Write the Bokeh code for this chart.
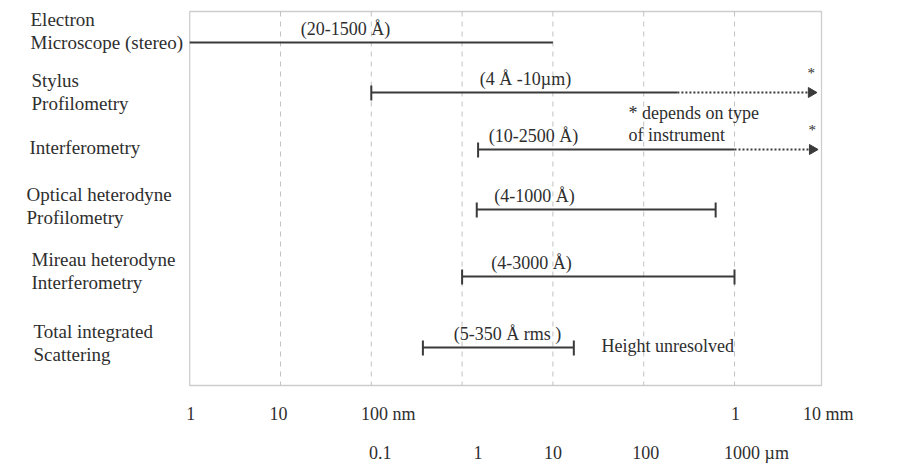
import math
from bokeh.plotting import figure
from bokeh.models import Range1d
from bokeh.core.properties import value
from bokeh.embed import file_html
from bokeh.resources import INLINE

# ---------------- data ----------------
methods = [
    "Electron\nMicroscope (stereo)",
    "Stylus\nProfilometry",
    "Interferometry",
    "Optical heterodyne\nProfilometry",
    "Mireau heterodyne\nInterferometry",
    "Total integrated\nScattering",
]
height_ranges = ["(20-1500 Å)", "(4 Å -10µm)", "(10-2500 Å)", "(4-1000 Å)", "(4-3000 Å)", "(5-350 Å rms )"]
# lateral range, nm
lat_min_nm = [1, 100, 1500, 1450, 1000, 370]
lat_max_nm = [1.0e4, 2.35e5, 1.0e6, 6.2e5, 1.0e6, 1.7e4]
extends_to_nm = [None, 7.0e6, 7.2e6, None, None, None]  # dotted "depends on instrument"
capped_start = [False, True, True, True, True, True]
capped_end = [False, False, False, True, True, True]

nm_ticks = [1, 10, 100, 1e6, 1e7]
nm_tick_labels = ["1", "10", "100 nm", "1", "10 mm"]
um_ticks = [100, 1e3, 1e4, 1e5, 1e6]
um_tick_labels = ["0.1", "1", "10", "100", "1000 µm"]
grid_decades = [10, 100, 1e3, 1e4, 1e5, 1e6]
footnote = "* depends on type\nof instrument"
tis_note = "Height unresolved"

# ---------------- layout ----------------
W, H = 906, 470
X0_PX = 189.2      # pixel of 1 nm
DEC_PX = 90.8      # pixels per decade


def nm_at(px):
    return 10 ** ((px - X0_PX) / DEC_PX)


BOX_L, BOX_R, BOX_T, BOX_B = 1.0, nm_at(821), 11, 385
row_y = [42, 92, 149, 209, 276, 347]
row_label_y = [30.5, 91.5, 147, 205.5, 270.5, 342.5]
row_label_px = [30, 31, 29, 26, 31, 33]
range_label_px = [345, 525, 533, 534, 531, 507]
LINE_SP = 23
nm_dx = [1, -2, 17, 1, 3]
um_dx = [9, 16, 0, 2, 22]

FONT = value("Liberation Serif")
TXT = "#2e2e2e"
LINE = "#3a3a3a"

p = figure(width=W, height=H, x_axis_type="log",
           x_range=Range1d(nm_at(0), nm_at(W)), y_range=Range1d(H, 0),
           x_axis_location=None, y_axis_location=None,
           output_backend="svg", toolbar_location=None, min_border=0)
p.grid.visible = False
p.outline_line_color = None
p.background_fill_color = "white"
p.border_fill_color = "white"

# frame box and decade grid
p.quad(left=[BOX_L], right=[BOX_R], top=[BOX_T], bottom=[BOX_B],
       fill_color=None, line_color="#cdcdcd", line_width=1.3)
p.segment(x0=grid_decades, y0=[BOX_T] * len(grid_decades), x1=grid_decades,
          y1=[BOX_B] * len(grid_decades), line_color="#c2c2c2", line_width=1,
          line_dash="5 5")

# solid ranges
p.segment(x0=lat_min_nm, y0=row_y, x1=lat_max_nm, y1=row_y,
          line_color=LINE, line_width=2)

# end caps
cx, cy = [], []
for i in range(len(methods)):
    if capped_start[i]:
        cx.append(lat_min_nm[i]); cy.append(row_y[i])
    if capped_end[i]:
        cx.append(lat_max_nm[i]); cy.append(row_y[i])
p.segment(x0=cx, y0=[y - 7 for y in cy], x1=cx, y1=[y + 8 for y in cy],
          line_color=LINE, line_width=2)

# dotted extensions with arrowheads and asterisks
ex0, ex1, ey = [], [], []
for i, ext in enumerate(extends_to_nm):
    if ext is None:
        continue
    ex0.append(lat_max_nm[i]); ex1.append(ext); ey.append(row_y[i])
p.segment(x0=ex0, y0=ey, x1=ex1, y1=ey, line_color=LINE, line_width=1.8, line_dash="2 2")
p.scatter(x=ex1, y=ey, marker="triangle", size=10, angle=-math.pi / 2,
          fill_color=LINE, line_color=LINE)
p.text(x=ex1, y=[y - 20 for y in ey], text=["*"] * len(ex1), text_font=FONT,
       text_font_size="15px", text_color=TXT, text_align="center",
       text_baseline="middle", x_offset=0)

# height-range annotations
p.text(x=[nm_at(v) for v in range_label_px], y=[y - 14 for y in row_y], text=height_ranges,
       text_font=FONT, text_font_size="18px", text_color=TXT,
       text_align="center", text_baseline="middle")

# method labels (left)
lx, ly, lt = [], [], []
for i, m in enumerate(methods):
    lines = m.split("\n")
    n = len(lines)
    for k, t in enumerate(lines):
        lx.append(nm_at(row_label_px[i]))
        ly.append(row_label_y[i] + (k - (n - 1) / 2) * LINE_SP)
        lt.append(t)
p.text(x=lx, y=ly, text=lt, text_font=FONT, text_font_size="19px", text_color=TXT,
       text_align="left", text_baseline="middle")

# notes
fl = footnote.split("\n")
p.text(x=[nm_at(628)] * len(fl), y=[112 + k * 22 for k in range(len(fl))], text=fl,
       text_font=FONT, text_font_size="18px", text_color=TXT,
       text_align="left", text_baseline="middle")
p.text(x=[nm_at(601)], y=[345], text=[tis_note], text_font=FONT, text_font_size="18px",
       text_color=TXT, text_align="left", text_baseline="middle")

# scale labels
p.text(x=nm_ticks, y=[413] * len(nm_ticks), text=nm_tick_labels, x_offset=nm_dx,
       text_font=FONT, text_font_size="18px", text_color=TXT,
       text_align="center", text_baseline="middle")
p.text(x=um_ticks, y=[452] * len(um_ticks), text=um_tick_labels, x_offset=um_dx,
       text_font=FONT, text_font_size="18px", text_color=TXT,
       text_align="center", text_baseline="middle")

open("out.html", "w").write(file_html(p, INLINE, title="Surface measurement ranges"))
